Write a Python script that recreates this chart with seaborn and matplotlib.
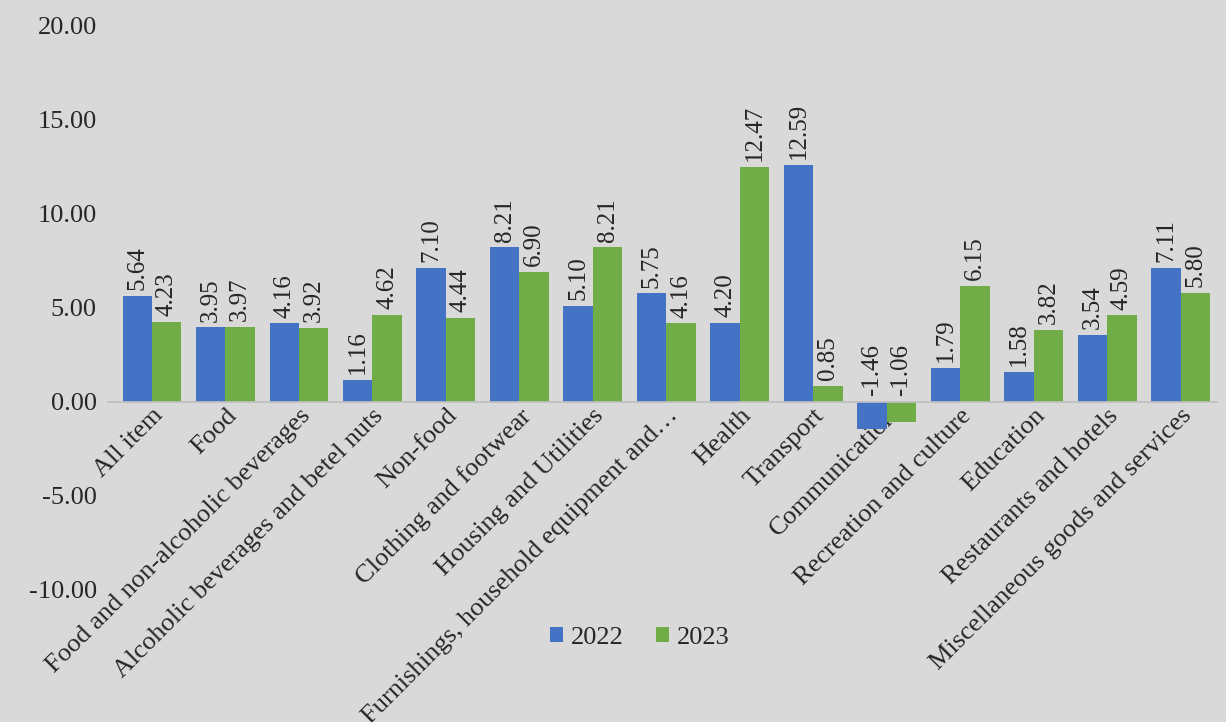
import matplotlib
matplotlib.use("Agg")
import matplotlib.pyplot as plt
from matplotlib import font_manager
import pandas as pd
import seaborn as sns

categories = ["All item", "Food", "Food and non-alcoholic beverages",
              "Alcoholic beverages and betel nuts", "Non-food", "Clothing and footwear",
              "Housing and Utilities", "Furnishings, household equipment and…", "Health",
              "Transport", "Communication", "Recreation and culture", "Education",
              "Restaurants and hotels", "Miscellaneous goods and services"]
v2022 = [5.64, 3.95, 4.16, 1.16, 7.10, 8.21, 5.10, 5.75, 4.20, 12.59, -1.46, 1.79, 1.58, 3.54, 7.11]
v2023 = [4.23, 3.97, 3.92, 4.62, 4.44, 6.90, 8.21, 4.16, 12.47, 0.85, -1.06, 6.15, 3.82, 4.59, 5.80]
years = ["2022", "2023"]

df = pd.DataFrame({
    "cat": categories * 2,
    "val": v2022 + v2023,
    "year": [years[0]] * len(categories) + [years[1]] * len(categories),
})

sns.set_theme(style="white")
installed = {f.name for f in font_manager.fontManager.ttflist}
serif = [n for n in ["Liberation Serif", "Times New Roman", "Tinos", "Nimbus Roman", "DejaVu Serif"] if n in installed]
plt.rcParams["font.family"] = serif + ["DejaVu Sans"]

bg = "#d9d9d9"
fig = plt.figure(figsize=(12.26, 7.22), dpi=100, facecolor=bg)
ax = fig.add_axes([0.088, 0.183, 0.905, 0.782], facecolor=bg)

sns.barplot(data=df, x="cat", y="val", hue="year", palette=["#4472c4", "#70ad47"],
            width=0.8, saturation=1, linewidth=0, ax=ax, legend=True)

for cont in ax.containers:
    for b in cont:
        h = b.get_height()
        x = b.get_x() + b.get_width() / 2
        y = h + 0.3 if h >= 0 else 0.3
        ax.text(x, y, f"{h:.2f}", rotation=90, ha="center", va="bottom", fontsize=18)

ticks = [-10, -5, 0, 5, 10, 15, 20]
ax.set_ylim(-10, 20)
ax.set_yticks(ticks)
ax.set_yticklabels([f"{t:.2f}" for t in ticks], fontsize=19)
ax.set_xlabel("")
ax.set_ylabel("")
ax.set_xlim(-0.6, len(categories) - 0.5)
for s in ["top", "right", "left"]:
    ax.spines[s].set_visible(False)
ax.spines["bottom"].set_position(("data", 0))
ax.spines["bottom"].set_color("#bfbfbf")
ax.tick_params(axis="both", length=0)
ax.tick_params(axis="y", pad=8)
ax.tick_params(axis="x", pad=2)
plt.setp(ax.get_xticklabels(), rotation=45, ha="right", rotation_mode="anchor", fontsize=19)

handles, labels = ax.get_legend_handles_labels()
ax.get_legend().remove()
fig.legend(handles, labels, loc="center", bbox_to_anchor=(0.522, 0.117), ncol=2,
           frameon=False, fontsize=19, handlelength=0.5, handleheight=0.5,
           columnspacing=1.2, handletextpad=0.3)

fig.savefig("out.png", dpi=100, facecolor=bg)
